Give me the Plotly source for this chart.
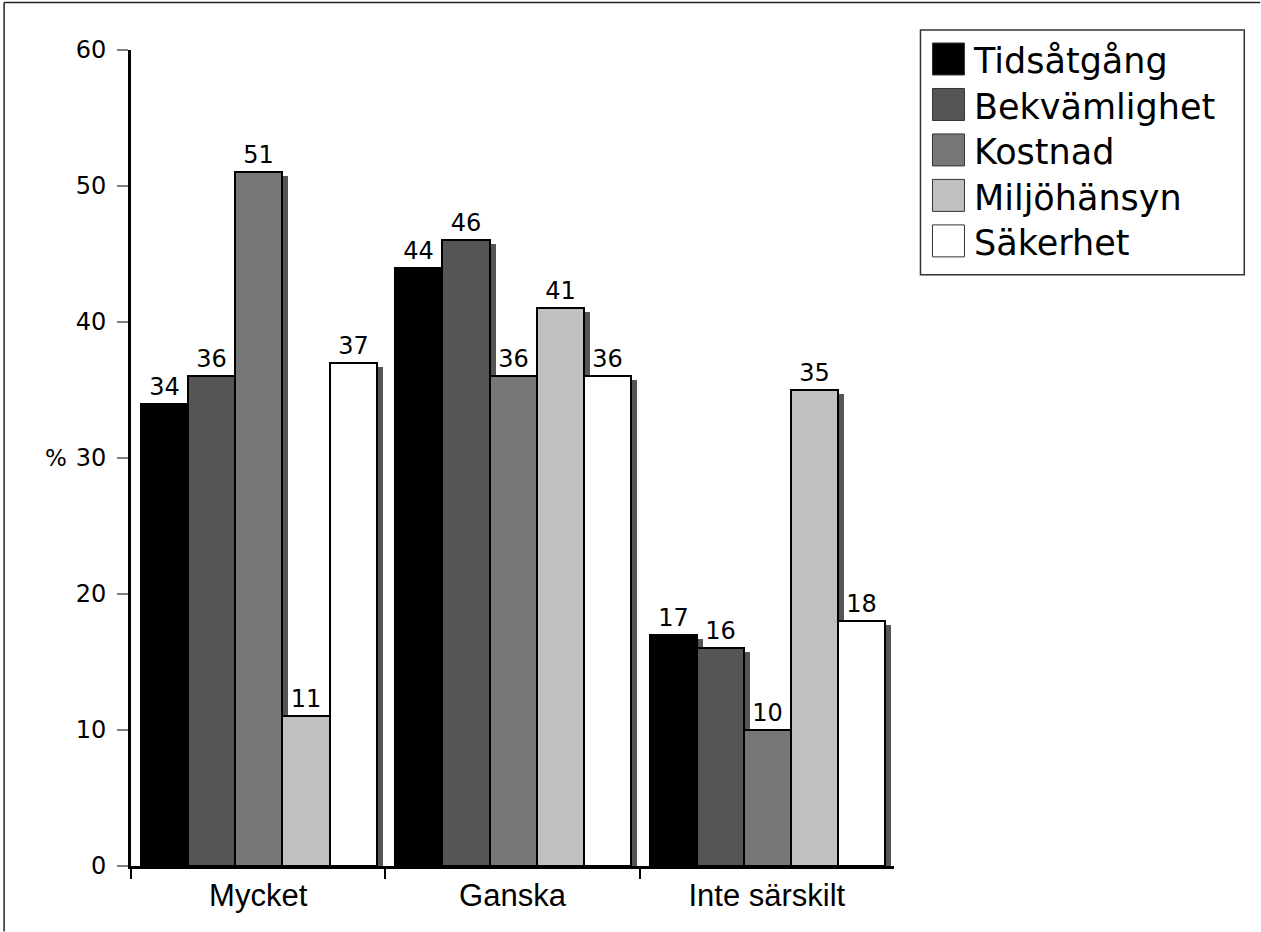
import plotly.graph_objects as go

# Data
categories = ["Mycket", "Ganska", "Inte särskilt"]
series_names = ["Tidsåtgång", "Bekvämlighet", "Kostnad", "Miljöhänsyn", "Säkerhet"]
tidsatgang = [34, 44, 17]
bekvamlighet = [36, 46, 16]
kostnad = [51, 36, 10]
miljohansyn = [11, 41, 35]
sakerhet = [37, 36, 18]
series_values = [tidsatgang, bekvamlighet, kostnad, miljohansyn, sakerhet]
y_ticks = [0, 10, 20, 30, 40, 50, 60]

colors = ["#000000", "#555555", "#777777", "#c0c0c0", "#ffffff"]
SHADOW = "#555555"

# Plot area in pixels
W, H = 1261, 932
L, T = 131, 50
PW, PH = 763.5, 816.5
R, B = W - L - PW, H - T - PH


def px(x):
    return (x - L) / PW


def py(y):
    return (T + PH - y) / PH


x_pos = list(range(len(categories)))
bar_w = 0.1855
start = -0.461
dx = 6 / PW * 3          # shadow shift (category units)
dy = 4 / PH * 60         # shadow shift (data units)

fig = go.Figure()

# drop shadows first
for i, vals in enumerate(series_values):
    fig.add_trace(go.Bar(
        x=x_pos,
        y=[v - dy for v in vals],
        width=bar_w,
        offset=start + i * bar_w + dx,
        marker=dict(color=SHADOW, line=dict(width=0)),
        showlegend=False,
        hoverinfo="skip",
    ))

for i, (name, vals) in enumerate(zip(series_names, series_values)):
    fig.add_trace(go.Bar(
        x=x_pos,
        y=vals,
        name=name,
        width=bar_w,
        offset=start + i * bar_w,
        marker=dict(color=colors[i], line=dict(color="black", width=2)),
        text=[str(v) for v in vals],
        textposition="outside",
        textfont=dict(family="DejaVu Sans", size=24, color="black"),
        cliponaxis=False,
        showlegend=False,
    ))

# Legend (drawn by hand)
ROW = 45.5
shapes = [dict(type="rect", xref="paper", yref="paper",
               x0=px(921), x1=px(1245), y0=py(275), y1=py(30),
               line=dict(color="#333333", width=1.5), fillcolor="white", layer="below")]
for i in range(len(series_names)):
    top = 43 + i * ROW
    shapes.append(dict(type="rect", xref="paper", yref="paper",
                       x0=px(933), x1=px(965), y0=py(top + 32), y1=py(top),
                       line=dict(color="#333333", width=1), fillcolor=colors[i]))

annotations = [dict(x=px(972), y=py(43 + 2 * ROW + 18), xref="paper", yref="paper",
                    text="<br>".join(series_names), showarrow=False, align="left",
                    xanchor="left", yanchor="middle",
                    font=dict(family="DejaVu Sans", size=35, color="black"))]

# outer frame: only top and left edges are visible
shapes.append(dict(type="line", xref="paper", yref="paper",
                   x0=px(4), x1=px(W), y0=py(2.5), y1=py(2.5),
                   line=dict(color="#222222", width=1.5)))
shapes.append(dict(type="line", xref="paper", yref="paper",
                   x0=px(4), x1=px(4), y0=py(2.5), y1=py(H),
                   line=dict(color="#222222", width=1.5)))

annotations.append(dict(x=px(56), y=30, xref="paper", yref="y", text="%", showarrow=False,
                        xanchor="center", yanchor="middle",
                        font=dict(family="DejaVu Sans", size=23, color="black")))

fig.update_layout(
    width=W,
    height=H,
    barmode="overlay",
    bargap=0,
    showlegend=False,
    plot_bgcolor="white",
    paper_bgcolor="white",
    margin=dict(l=L, r=R, t=T, b=B, pad=0),
    shapes=shapes,
    annotations=annotations,
    xaxis=dict(
        range=[-0.5, 2.5],
        tickmode="array",
        tickvals=x_pos,
        ticktext=categories,
        ticks="",
        showline=True,
        linecolor="black",
        linewidth=3,
        showgrid=False,
        zeroline=False,
        tickfont=dict(family="Liberation Sans", size=31, color="black"),
        minor=dict(tickmode="array", tickvals=[-0.5, 0.5, 1.5], ticks="outside",
                   ticklen=10, tickwidth=2, tickcolor="black", showgrid=False),
    ),
    yaxis=dict(
        range=[0, 60],
        tickmode="array",
        tickvals=y_ticks,
        ticks="outside",
        ticklen=11,
        tickwidth=2,
        tickcolor="#808080",
        showline=True,
        linecolor="black",
        linewidth=3,
        showgrid=False,
        zeroline=False,
        ticklabelstandoff=6,
        tickfont=dict(family="DejaVu Sans", size=24, color="black"),
    ),
)

fig.write_html("out.html", config={"displayModeBar": False},
               post_script="document.body.style.margin='0';")
